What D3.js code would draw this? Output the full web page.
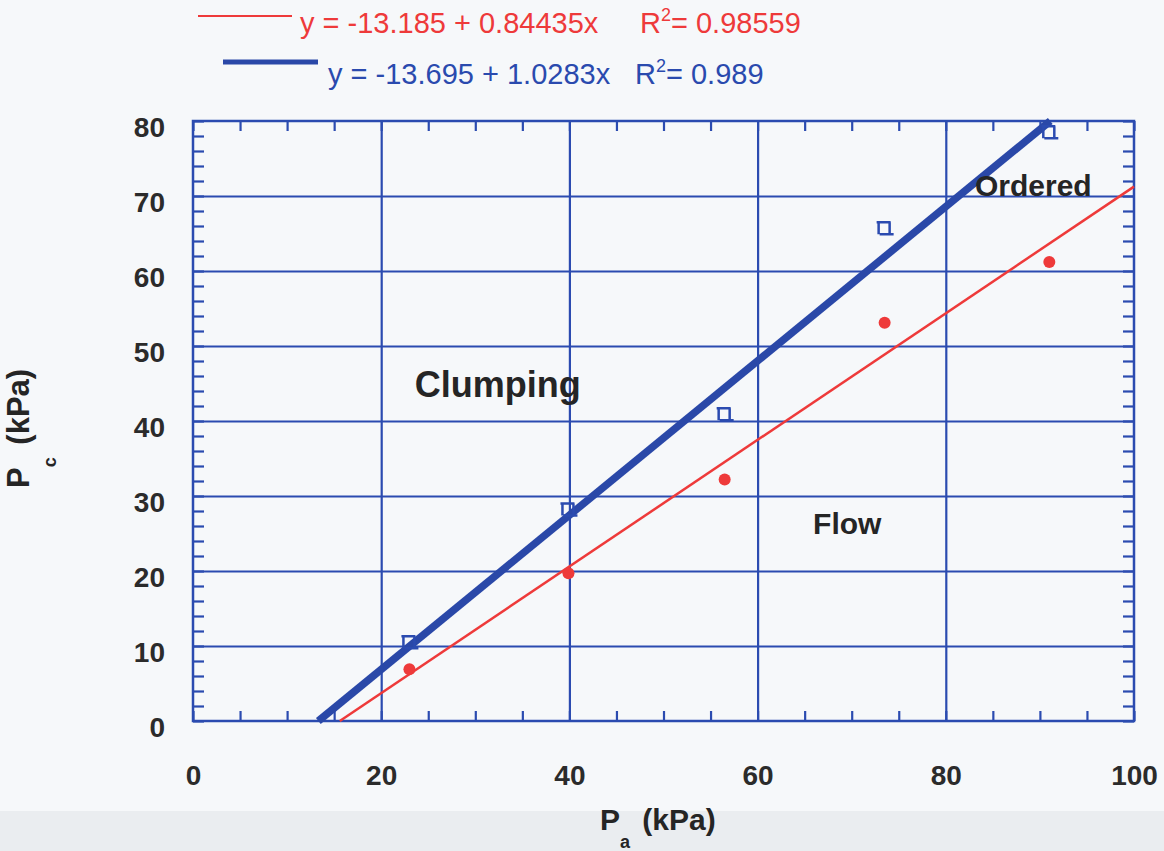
<!DOCTYPE html>
<html>
<head>
<meta charset="utf-8">
<script src="https://d3js.org/d3.v7.min.js"></script>
<style>
body { margin: 0; background: #f6f8fa; }
svg { display: block; font-family: "Liberation Sans", Arial, sans-serif; }
</style>
</head>
<body>
<div id="grafico"></div>
<script>
// valores (kPa)
var pa = [23.0, 39.9, 56.5, 73.5, 91.0];
var pcFlow = [6.9, 19.7, 32.2, 53.1, 61.2];      // pontos vermelhos
var pcClump = [10.5, 28.2, 40.9, 65.7, 78.5];    // quadrados azuis
var redFit = [[15.6, 0], [100, 71.25]];
var blueFit = [[13.32, 0], [91.1, 80]];
var xTicks = [0, 20, 40, 60, 80, 100];
var yTicks = [0, 10, 20, 30, 40, 50, 60, 70, 80];
var legendas = ["y = -13.185 + 0.84435x", "y = -13.695 + 1.0283x"];
var r2 = ["0.98559", "0.989"];
var regioes = ["Clumping", "Flow", "Ordered"];

var width = 1164;
var height = 851;
var margEsq = 193, margTopo = 121, w = 941, h = 600;
var azul = "#2b4bb0";
var azulLinha = "#2a48a8";
var vermelho = "#ee3a3a";

var svg = d3.select("#grafico").append("svg")
	.attr("width", width)
	.attr("height", height);

// faixa cinza no rodape da pagina
svg.append("rect")
	.attr("x", 0).attr("y", 811)
	.attr("width", width).attr("height", 40)
	.style("fill", "#eaedf0");

var x = d3.scaleLinear().domain([0, 100]).range([0, w]);
var y = d3.scaleLinear().domain([0, 80]).range([h, 0]);

var g = svg.append("g").attr("transform", "translate(" + margEsq + "," + margTopo + ")");

// grade nas divisoes principais
g.append("g")
	.attr("class", "grade")
	.attr("transform", "translate(0," + h + ")")
	.call(d3.axisBottom(x).tickValues([20, 40, 60, 80]).tickSize(-h).tickFormat(""));
g.append("g")
	.attr("class", "grade")
	.call(d3.axisLeft(y).tickValues([10, 20, 30, 40, 50, 60, 70]).tickSize(-w).tickFormat(""));

// marcas menores para dentro, nos quatro lados
g.append("g").attr("class", "menor")
	.attr("transform", "translate(0," + h + ")")
	.call(d3.axisTop(x).ticks(20).tickSize(10).tickFormat(""));
g.append("g").attr("class", "menor")
	.call(d3.axisBottom(x).ticks(20).tickSize(10).tickFormat(""));
g.append("g").attr("class", "menor")
	.call(d3.axisRight(y).ticks(40).tickSize(11).tickFormat(""));
g.append("g").attr("class", "menor")
	.attr("transform", "translate(" + w + ",0)")
	.call(d3.axisLeft(y).ticks(40).tickSize(11).tickFormat(""));

g.selectAll(".grade .domain, .menor .domain").remove();
g.selectAll(".grade line, .menor line")
	.style("stroke", azul)
	.style("stroke-width", 2.2);

g.append("rect")
	.attr("width", w).attr("height", h)
	.style("fill", "none")
	.style("stroke", azul)
	.style("stroke-width", 2.5);

// rotulos dos eixos
var ex = g.append("g")
	.attr("transform", "translate(0," + h + ")")
	.call(d3.axisBottom(x).tickValues(xTicks).tickSize(0).tickFormat(d3.format("d")));
ex.select(".domain").remove();
ex.selectAll("text")
	.attr("y", 64).attr("dy", null)
	.attr("font-size", "28px")
	.attr("font-weight", "bold")
	.attr("fill", "#2b2b2b");

var ey = g.append("g")
	.call(d3.axisLeft(y).tickValues(yTicks).tickSize(0).tickFormat(d3.format("d")));
ey.select(".domain").remove();
ey.selectAll("text")
	.attr("x", -28).attr("dy", null).attr("y", 15)
	.attr("font-size", "28px")
	.attr("font-weight", "bold")
	.attr("fill", "#2b2b2b");

ex.attr("font-family", null);
ey.attr("font-family", null);

// retas ajustadas
var linha = d3.line()
	.x(function(d) { return x(d[0]); })
	.y(function(d) { return y(d[1]); });

g.append("path")
	.datum(redFit)
	.attr("d", linha)
	.style("fill", "none")
	.style("stroke", vermelho)
	.style("stroke-width", 2.5);

g.append("path")
	.datum(blueFit)
	.attr("d", linha)
	.style("fill", "none")
	.style("stroke", azulLinha)
	.style("stroke-width", 7.5);

// pontos
g.selectAll("circle")
	.data(pa)
	.enter()
	.append("circle")
	.attr("cx", function(d) { return x(d); })
	.attr("cy", function(d, i) { return y(pcFlow[i]); })
	.attr("r", 6)
	.style("fill", vermelho);

var quad = g.selectAll(".quad")
	.data(pa)
	.enter()
	.append("path")
	.attr("class", "quad")
	.attr("transform", function(d, i) { return "translate(" + x(d) + "," + y(pcClump[i]) + ")"; })
	.attr("d", "M-8,-6H6M-6,-6V6M5,-6V6M-5,6H9")
	.style("fill", "none")
	.style("stroke", azul)
	.style("stroke-width", 2.5);

// nomes das regioes
var posRegioes = [[23.56, 43.2, 36], [65.9, 25.0, 30], [83.1, 70.0, 30]];
g.selectAll(".regiao")
	.data(regioes)
	.enter()
	.append("text")
	.attr("class", "regiao")
	.attr("x", function(d, i) { return x(posRegioes[i][0]); })
	.attr("y", function(d, i) { return y(posRegioes[i][1]); })
	.attr("font-size", function(d, i) { return posRegioes[i][2] + "px"; })
	.attr("font-weight", "bold")
	.attr("fill", "#252525")
	.text(function(d) { return d; });

// legenda no topo
svg.append("line")
	.attr("x1", 198).attr("x2", 292).attr("y1", 16).attr("y2", 16)
	.style("stroke", vermelho).style("stroke-width", 2);
svg.append("line")
	.attr("x1", 223).attr("x2", 318).attr("y1", 62).attr("y2", 62)
	.style("stroke", azulLinha).style("stroke-width", 5);

var posLeg = [[300, 33, 640, vermelho], [328, 84, 635, "#2a4aae"]];
legendas.forEach(function(t, i) {
	var p = posLeg[i];
	var txt = svg.append("text")
		.attr("x", p[0]).attr("y", p[1])
		.attr("font-size", "29px")
		.attr("fill", p[3]);
	txt.append("tspan").text(t);
	txt.append("tspan").attr("x", p[2]).text("R");
	txt.append("tspan").attr("dy", -12).attr("font-size", "18px").text("2");
	txt.append("tspan").attr("dy", 12).text("= " + r2[i]);
});

// titulos dos eixos
var tx = svg.append("text")
	.attr("x", 600).attr("y", 830)
	.attr("font-size", "30px")
	.attr("font-weight", "bold")
	.attr("fill", "#252525");
tx.append("tspan").text("P");
tx.append("tspan").attr("dy", 18).attr("font-size", "18px").text("a");
tx.append("tspan").attr("dy", -18).attr("dx", 4).text(" (kPa)");

var ty = svg.append("text")
	.attr("transform", "translate(29,488) rotate(-90)")
	.attr("font-size", "31px")
	.attr("font-weight", "bold")
	.attr("fill", "#252525");
ty.append("tspan").text("P");
ty.append("tspan").attr("dy", 27).attr("font-size", "18px").text("c");
ty.append("tspan").attr("dy", -27).attr("dx", 4).text(" (kPa)");
</script>
</body>
</html>
